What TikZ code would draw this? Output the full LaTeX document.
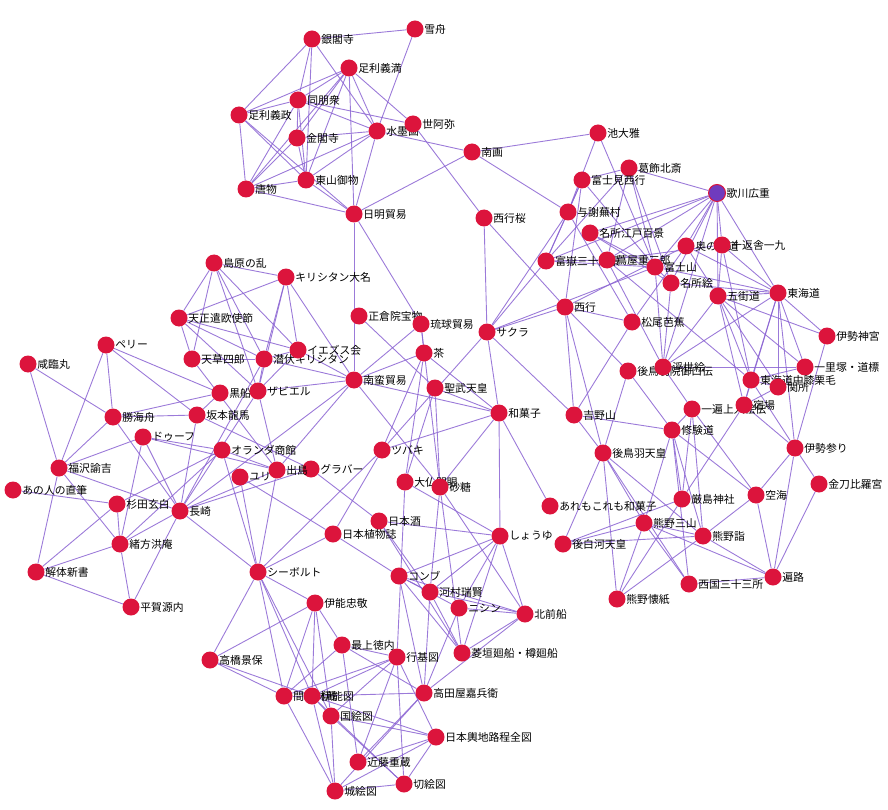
\documentclass[tikz,border=0pt]{standalone}
\usepackage{fontspec}
\setmainfont{Noto Sans CJK JP}
\usetikzlibrary{backgrounds}
\definecolor{dotred}{HTML}{DC143C}
\definecolor{linkpurple}{HTML}{8A63D2}
\definecolor{hilite}{HTML}{6F3BBE}

\begin{document}
\begin{tikzpicture}[x=1pt, y=-1pt,
    lbl/.style={font=\fontsize{10.8}{12}\selectfont, inner sep=0.5pt},
    n/.style={circle, fill=dotred, minimum size=17pt, inner sep=0pt, label distance=1pt, label={[lbl]right:#1}},
    hl/.style={n=#1, fill=hilite, draw=dotred, line width=1pt},
    link/.style={every edge/.style={draw=linkpurple, line width=0.9pt, draw opacity=0.85}}]
            \useasboundingbox (0,0) rectangle (888,810);

            \node[n=銀閣寺] (ginkaku) at (312,39) {};
            \node[n=雪舟] (sesshu) at (415,29) {};
            \node[n=足利義満] (yoshimitsu) at (349,68) {};
            \node[n=同朋衆] (doboshu) at (298,100) {};
            \node[n=足利義政] (yoshimasa) at (239,115) {};
            \node[n=金閣寺] (kinkaku) at (297,138) {};
            \node[n=水墨画] (suiboku) at (377,131) {};
            \node[n=世阿弥] (zeami) at (413,124) {};
            \node[n=唐物] (karamono) at (246,189) {};
            \node[n=東山御物] (gomotsu) at (306,180) {};
            \node[n=日明貿易] (nichimin) at (354,214) {};
            \node[n=南画] (nanga) at (472,152) {};

            \node[n=池大雅] (taiga) at (598,133) {};
            \node[n=葛飾北斎] (hokusai) at (629,168) {};
            \node[n=富士見西行] (fujimi) at (582,180) {};
            \node[n=与謝蕪村] (buson) at (568,212) {};
            \node[n=名所江戸百景] (edohyakkei) at (590,233) {};
            \node[n=富嶽三十六景] (fugaku) at (546,261) {};
            \node[n=蔦屋重三郎] (tsutaya) at (607,260) {};
            \node[n=奥の細道] (okuno) at (686,246) {};
            \node[n=十返舎一九] (ikku) at (722,245) {};
            \node[n=富士山] (fujisan) at (655,267) {};
            \node[n=名所絵] (meishoe) at (671,283) {};
            \node[n=五街道] (gokaido) at (718,296) {};
            \node[n=東海道] (tokaido) at (778,293) {};
            \node[n=松尾芭蕉] (basho) at (632,322) {};
            \node[n=伊勢神宮] (jingu) at (827,336) {};
            \node[n=西行桜] (saigyozakura) at (484,218) {};
            \node[n=西行] (saigyo) at (565,307) {};
            \node[n=サクラ] (sakura) at (487,332) {};
            \node[n=後鳥羽院御口伝] (kuden) at (628,371) {};
            \node[n=浮世絵] (ukiyoe) at (663,367) {};
            \node[n=一里塚・道標] (ichirizuka) at (805,367) {};
            \node[n=東海道中膝栗毛] (hizakurige) at (751,380) {};
            \node[n=関所] (sekisho) at (778,387) {};
            \node[n=一遍上人絵伝] (ippen) at (692,409) {};
            \node[n=宿場] (shukuba) at (744,405) {};
            \node[n=修験道] (shugendo) at (672,430) {};
            \node[n=伊勢参り] (isemairi) at (795,448) {};
            \node[n=吉野山] (yoshino) at (574,415) {};
            \node[n=和菓子] (wagashi) at (499,413) {};
            \node[n=後鳥羽天皇] (gotoba) at (603,453) {};
            \node[n=金刀比羅宮] (kotohira) at (819,484) {};
            \node[n=空海] (kukai) at (756,495) {};
            \node[n=厳島神社] (itsukushima) at (682,499) {};
            \node[n=あれもこれも和菓子] (aremo) at (550,506) {};
            \node[n=熊野三山] (sanzan) at (644,523) {};
            \node[n=熊野詣] (kumanomode) at (703,536) {};
            \node[n=後白河天皇] (goshirakawa) at (563,544) {};
            \node[n=遍路] (henro) at (773,577) {};
            \node[n=西国三十三所] (saigoku) at (689,584) {};
            \node[n=熊野懐紙] (kaishi) at (617,599) {};
            \node[hl=歌川広重] (hiroshige) at (717,193) {};

            \node[n=正倉院宝物] (shosoin) at (359,316) {};
            \node[n=琉球貿易] (ryukyu) at (421,324) {};
            \node[n=茶] (cha) at (424,353) {};
            \node[n=聖武天皇] (shomu) at (435,388) {};
            \node[n=南蛮貿易] (nanban) at (354,380) {};
            \node[n=ツバキ] (tsubaki) at (382,450) {};
            \node[n=グラバー] (glover) at (311,469) {};
            \node[n=大仏開眼] (daibutsu) at (405,482) {};
            \node[n=砂糖] (sato) at (440,487) {};
            \node[n=日本酒] (sake) at (379,521) {};
            \node[n=日本植物誌] (shokubutsushi) at (333,534) {};
            \node[n=しょうゆ] (shoyu) at (500,536) {};
            \node[n=コンブ] (konbu) at (399,576) {};
            \node[n=河村瑞賢] (zuiken) at (430,592) {};
            \node[n=ニシン] (nishin) at (459,608) {};
            \node[n=北前船] (kitamae) at (525,614) {};
            \node[n=菱垣廻船・樽廻船] (higaki) at (462,653) {};
            \node[n=伊能忠敬] (tadataka) at (315,603) {};
            \node[n=最上徳内] (mogami) at (342,645) {};
            \node[n=行基図] (gyokizu) at (397,657) {};
            \node[n=高田屋嘉兵衛] (takataya) at (424,693) {};
            \node[n=間宮林蔵] (mamiya) at (284,696) {};
            \node[n=伊能図] (inozu) at (312,696) {};
            \node[n=国絵図] (kuniezu) at (331,716) {};
            \node[n=日本輿地路程全図] (yochi) at (436,737) {};
            \node[n=近藤重蔵] (kondo) at (358,762) {};
            \node[n=切絵図] (kiriezu) at (404,784) {};
            \node[n=城絵図] (shiroezu) at (335,791) {};
            \node[n=高橋景保] (takahashi) at (210,660) {};
            \node[n=シーボルト] (siebold) at (258,572) {};

            \node[n=島原の乱] (shimabara) at (214,263) {};
            \node[n=キリシタン大名] (daimyo) at (286,277) {};
            \node[n=天正遣欧使節] (tensho) at (179,318) {};
            \node[n=天草四郎] (amakusa) at (192,359) {};
            \node[n=潜伏キリシタン] (senpuku) at (264,359) {};
            \node[n=イエズス会] (jesuit) at (298,350) {};
            \node[n=黒船] (kurofune) at (220,393) {};
            \node[n=ザビエル] (xavier) at (258,391) {};
            \node[n=ペリー] (perry) at (106,345) {};
            \node[n=咸臨丸] (kanrin) at (28,364) {};
            \node[n=勝海舟] (kaishu) at (113,417) {};
            \node[n=坂本龍馬] (ryoma) at (197,415) {};
            \node[n=ドゥーフ] (doeff) at (143,437) {};
            \node[n=オランダ商館] (shokan) at (222,450) {};
            \node[n=ユリ] (yuri) at (240,477) {};
            \node[n=出島] (dejima) at (277,470) {};
            \node[n=福沢諭吉] (yukichi) at (59,468) {};
            \node[n=あの人の直筆] (hitsu) at (13,490) {};
            \node[n=杉田玄白] (genpaku) at (117,504) {};
            \node[n=長崎] (nagasaki) at (180,511) {};
            \node[n=緒方洪庵] (koan) at (120,544) {};
            \node[n=解体新書] (kaitai) at (36,572) {};
            \node[n=平賀源内] (gennai) at (131,607) {};

            \begin{scope}[on background layer, link]
            \draw (ginkaku) edge (sesshu);
            \draw (ginkaku) edge (yoshimasa);
            \draw (ginkaku) edge (doboshu);
            \draw (ginkaku) edge (suiboku);
            \draw (ginkaku) edge (gomotsu);
            \draw (sesshu) edge (suiboku);
            \draw (yoshimitsu) edge (doboshu);
            \draw (yoshimitsu) edge (yoshimasa);
            \draw (yoshimitsu) edge (kinkaku);
            \draw (yoshimitsu) edge (gomotsu);
            \draw (yoshimitsu) edge (nichimin);
            \draw (yoshimitsu) edge (suiboku);
            \draw (yoshimitsu) edge (zeami);
            \draw (yoshimitsu) edge (karamono);
            \draw (doboshu) edge (kinkaku);
            \draw (doboshu) edge (gomotsu);
            \draw (doboshu) edge (suiboku);
            \draw (doboshu) edge (zeami);
            \draw (doboshu) edge (karamono);
            \draw (doboshu) edge (yoshimasa);
            \draw (yoshimasa) edge (karamono);
            \draw (yoshimasa) edge (gomotsu);
            \draw (yoshimasa) edge (nichimin);
            \draw (kinkaku) edge (suiboku);
            \draw (kinkaku) edge (gomotsu);
            \draw (kinkaku) edge (karamono);
            \draw (karamono) edge (gomotsu);
            \draw (karamono) edge (suiboku);
            \draw (karamono) edge (nichimin);
            \draw (gomotsu) edge (suiboku);
            \draw (gomotsu) edge (nichimin);
            \draw (suiboku) edge (nanga);
            \draw (suiboku) edge (nichimin);
            \draw (zeami) edge (saigyozakura);
            \draw (nichimin) edge (nanga);
            \draw (nichimin) edge (nanban);
            \draw (nichimin) edge (ryukyu);
            \draw (nanga) edge (taiga);
            \draw (nanga) edge (buson);

            \draw (taiga) edge (buson);
            \draw (taiga) edge (fujisan);
            \draw (hokusai) edge (hiroshige);
            \draw (hokusai) edge (fugaku);
            \draw (hokusai) edge (fujisan);
            \draw (hokusai) edge (tsutaya);
            \draw (hokusai) edge (meishoe);
            \draw (hokusai) edge (fujimi);
            \draw (hiroshige) edge (edohyakkei);
            \draw (hiroshige) edge (tsutaya);
            \draw (hiroshige) edge (fujisan);
            \draw (hiroshige) edge (ikku);
            \draw (hiroshige) edge (tokaido);
            \draw (hiroshige) edge (gokaido);
            \draw (hiroshige) edge (meishoe);
            \draw (hiroshige) edge (ukiyoe);
            \draw (hiroshige) edge (okuno);
            \draw (hiroshige) edge (fugaku);
            \draw (fujimi) edge (saigyo);
            \draw (fujimi) edge (fujisan);
            \draw (fujimi) edge (fugaku);
            \draw (fujimi) edge (buson);
            \draw (buson) edge (basho);
            \draw (buson) edge (fugaku);
            \draw (buson) edge (sakura);
            \draw (edohyakkei) edge (fujisan);
            \draw (edohyakkei) edge (meishoe);
            \draw (edohyakkei) edge (tsutaya);
            \draw (fugaku) edge (fujisan);
            \draw (fugaku) edge (sakura);
            \draw (fugaku) edge (tsutaya);
            \draw (tsutaya) edge (ikku);
            \draw (tsutaya) edge (hizakurige);
            \draw (tsutaya) edge (ukiyoe);
            \draw (fujisan) edge (tokaido);
            \draw (fujisan) edge (sakura);
            \draw (fujisan) edge (ukiyoe);
            \draw (fujisan) edge (meishoe);
            \draw (okuno) edge (basho);
            \draw (okuno) edge (gokaido);
            \draw (okuno) edge (saigyo);
            \draw (okuno) edge (tokaido);
            \draw (ikku) edge (hizakurige);
            \draw (ikku) edge (tokaido);
            \draw (ikku) edge (gokaido);
            \draw (meishoe) edge (ukiyoe);
            \draw (meishoe) edge (tokaido);
            \draw (gokaido) edge (tokaido);
            \draw (gokaido) edge (shukuba);
            \draw (gokaido) edge (sekisho);
            \draw (gokaido) edge (ichirizuka);
            \draw (gokaido) edge (hizakurige);
            \draw (gokaido) edge (ukiyoe);
            \draw (gokaido) edge (jingu);
            \draw (tokaido) edge (jingu);
            \draw (tokaido) edge (ichirizuka);
            \draw (tokaido) edge (sekisho);
            \draw (tokaido) edge (shukuba);
            \draw (tokaido) edge (hizakurige);
            \draw (tokaido) edge (isemairi);
            \draw (tokaido) edge (ukiyoe);
            \draw (jingu) edge (isemairi);
            \draw (ichirizuka) edge (ukiyoe);
            \draw (ichirizuka) edge (hizakurige);
            \draw (shukuba) edge (sekisho);
            \draw (shukuba) edge (isemairi);
            \draw (shukuba) edge (itsukushima);
            \draw (shukuba) edge (hizakurige);
            \draw (hizakurige) edge (isemairi);
            \draw (hizakurige) edge (sekisho);
            \draw (ippen) edge (kumanomode);
            \draw (ippen) edge (itsukushima);
            \draw (ippen) edge (shugendo);
            \draw (ippen) edge (kukai);
            \draw (ippen) edge (ukiyoe);
            \draw (saigyo) edge (sakura);
            \draw (saigyo) edge (saigyozakura);
            \draw (saigyo) edge (yoshino);
            \draw (saigyo) edge (basho);
            \draw (saigyo) edge (kuden);
            \draw (saigyo) edge (gotoba);
            \draw (saigyozakura) edge (sakura);
            \draw (sakura) edge (yoshino);
            \draw (sakura) edge (tsubaki);
            \draw (sakura) edge (wagashi);
            \draw (basho) edge (yoshino);
            \draw (kuden) edge (gotoba);
            \draw (kuden) edge (shugendo);
            \draw (yoshino) edge (shugendo);
            \draw (yoshino) edge (gotoba);
            \draw (gotoba) edge (sanzan);
            \draw (gotoba) edge (kumanomode);
            \draw (gotoba) edge (kaishi);
            \draw (gotoba) edge (goshirakawa);
            \draw (gotoba) edge (saigoku);
            \draw (shugendo) edge (sanzan);
            \draw (shugendo) edge (itsukushima);
            \draw (shugendo) edge (saigoku);
            \draw (shugendo) edge (kumanomode);
            \draw (shugendo) edge (kukai);
            \draw (isemairi) edge (kotohira);
            \draw (isemairi) edge (kukai);
            \draw (isemairi) edge (henro);
            \draw (kotohira) edge (henro);
            \draw (kukai) edge (henro);
            \draw (kukai) edge (kumanomode);
            \draw (itsukushima) edge (goshirakawa);
            \draw (itsukushima) edge (kaishi);
            \draw (sanzan) edge (kumanomode);
            \draw (sanzan) edge (saigoku);
            \draw (sanzan) edge (kaishi);
            \draw (sanzan) edge (goshirakawa);
            \draw (sanzan) edge (henro);
            \draw (kumanomode) edge (goshirakawa);
            \draw (kumanomode) edge (kaishi);
            \draw (kumanomode) edge (henro);
            \draw (saigoku) edge (henro);

            \draw (shosoin) edge (shomu);
            \draw (ryukyu) edge (cha);
            \draw (ryukyu) edge (nanban);
            \draw (ryukyu) edge (sato);
            \draw (cha) edge (wagashi);
            \draw (cha) edge (nanban);
            \draw (cha) edge (tsubaki);
            \draw (cha) edge (daibutsu);
            \draw (shomu) edge (daibutsu);
            \draw (shomu) edge (sato);
            \draw (shomu) edge (wagashi);
            \draw (daibutsu) edge (gyokizu);
            \draw (daibutsu) edge (shoyu);
            \draw (sato) edge (wagashi);
            \draw (sato) edge (kitamae);
            \draw (sato) edge (zuiken);
            \draw (sato) edge (higaki);
            \draw (sato) edge (nanban);
            \draw (wagashi) edge (tsubaki);
            \draw (wagashi) edge (shoyu);
            \draw (wagashi) edge (aremo);
            \draw (wagashi) edge (nanban);
            \draw (shoyu) edge (sake);
            \draw (shoyu) edge (konbu);
            \draw (shoyu) edge (zuiken);
            \draw (shoyu) edge (nishin);
            \draw (shoyu) edge (kitamae);
            \draw (shoyu) edge (higaki);
            \draw (sake) edge (glover);
            \draw (sake) edge (higaki);
            \draw (sake) edge (zuiken);
            \draw (shokubutsushi) edge (tsubaki);
            \draw (shokubutsushi) edge (siebold);
            \draw (shokubutsushi) edge (yuri);
            \draw (shokubutsushi) edge (konbu);
            \draw (tsubaki) edge (siebold);
            \draw (konbu) edge (zuiken);
            \draw (konbu) edge (kitamae);
            \draw (konbu) edge (nishin);
            \draw (konbu) edge (takataya);
            \draw (konbu) edge (higaki);
            \draw (zuiken) edge (kitamae);
            \draw (zuiken) edge (higaki);
            \draw (zuiken) edge (takataya);
            \draw (nishin) edge (kitamae);
            \draw (nishin) edge (takataya);
            \draw (kitamae) edge (higaki);
            \draw (kitamae) edge (takataya);
            \draw (gyokizu) edge (inozu);
            \draw (gyokizu) edge (kuniezu);
            \draw (gyokizu) edge (kondo);
            \draw (gyokizu) edge (kiriezu);
            \draw (gyokizu) edge (yochi);
            \draw (gyokizu) edge (mamiya);
            \draw (takataya) edge (kondo);
            \draw (takataya) edge (mogami);
            \draw (takataya) edge (inozu);
            \draw (takataya) edge (shiroezu);
            \draw (mogami) edge (kondo);
            \draw (mogami) edge (mamiya);
            \draw (mogami) edge (tadataka);
            \draw (mogami) edge (gyokizu);
            \draw (tadataka) edge (inozu);
            \draw (tadataka) edge (mamiya);
            \draw (tadataka) edge (takahashi);
            \draw (tadataka) edge (siebold);
            \draw (tadataka) edge (kuniezu);
            \draw (siebold) edge (takahashi);
            \draw (siebold) edge (mamiya);
            \draw (siebold) edge (inozu);
            \draw (siebold) edge (dejima);
            \draw (siebold) edge (nagasaki);
            \draw (siebold) edge (shokan);
            \draw (siebold) edge (yuri);
            \draw (siebold) edge (kuniezu);
            \draw (takahashi) edge (mamiya);
            \draw (takahashi) edge (inozu);
            \draw (mamiya) edge (inozu);
            \draw (mamiya) edge (shiroezu);
            \draw (inozu) edge (kuniezu);
            \draw (inozu) edge (yochi);
            \draw (inozu) edge (shiroezu);
            \draw (inozu) edge (kiriezu);
            \draw (kuniezu) edge (yochi);
            \draw (kuniezu) edge (shiroezu);
            \draw (kuniezu) edge (kiriezu);
            \draw (yochi) edge (shiroezu);
            \draw (yochi) edge (kiriezu);
            \draw (yochi) edge (kondo);
            \draw (kiriezu) edge (shiroezu);

            \draw (shimabara) edge (daimyo);
            \draw (shimabara) edge (tensho);
            \draw (shimabara) edge (amakusa);
            \draw (shimabara) edge (senpuku);
            \draw (shimabara) edge (xavier);
            \draw (shimabara) edge (jesuit);
            \draw (daimyo) edge (tensho);
            \draw (daimyo) edge (senpuku);
            \draw (daimyo) edge (xavier);
            \draw (daimyo) edge (jesuit);
            \draw (daimyo) edge (nanban);
            \draw (tensho) edge (jesuit);
            \draw (tensho) edge (senpuku);
            \draw (tensho) edge (xavier);
            \draw (tensho) edge (amakusa);
            \draw (amakusa) edge (senpuku);
            \draw (amakusa) edge (dejima);
            \draw (senpuku) edge (jesuit);
            \draw (senpuku) edge (xavier);
            \draw (senpuku) edge (nagasaki);
            \draw (senpuku) edge (nanban);
            \draw (jesuit) edge (xavier);
            \draw (jesuit) edge (nanban);
            \draw (xavier) edge (nanban);
            \draw (xavier) edge (nagasaki);
            \draw (xavier) edge (dejima);
            \draw (kurofune) edge (perry);
            \draw (kurofune) edge (kaishu);
            \draw (kurofune) edge (ryoma);
            \draw (perry) edge (kaishu);
            \draw (perry) edge (yukichi);
            \draw (perry) edge (ryoma);
            \draw (kanrin) edge (kaishu);
            \draw (kanrin) edge (yukichi);
            \draw (kaishu) edge (ryoma);
            \draw (kaishu) edge (yukichi);
            \draw (kaishu) edge (nagasaki);
            \draw (ryoma) edge (nagasaki);
            \draw (ryoma) edge (glover);
            \draw (doeff) edge (shokan);
            \draw (doeff) edge (dejima);
            \draw (doeff) edge (nagasaki);
            \draw (doeff) edge (koan);
            \draw (doeff) edge (yukichi);
            \draw (yukichi) edge (nagasaki);
            \draw (yukichi) edge (koan);
            \draw (yukichi) edge (kaitai);
            \draw (hitsu) edge (genpaku);
            \draw (genpaku) edge (koan);
            \draw (genpaku) edge (kaitai);
            \draw (genpaku) edge (shokan);
            \draw (koan) edge (nagasaki);
            \draw (koan) edge (gennai);
            \draw (koan) edge (kaitai);
            \draw (koan) edge (shokan);
            \draw (kaitai) edge (gennai);
            \draw (gennai) edge (nagasaki);
            \draw (nagasaki) edge (dejima);
            \draw (nagasaki) edge (glover);
            \draw (nagasaki) edge (nanban);
            \draw (shokan) edge (dejima);
            \draw (dejima) edge (glover);
            \draw (dejima) edge (nanban);
            \end{scope}
        \end{tikzpicture}
\end{document}
